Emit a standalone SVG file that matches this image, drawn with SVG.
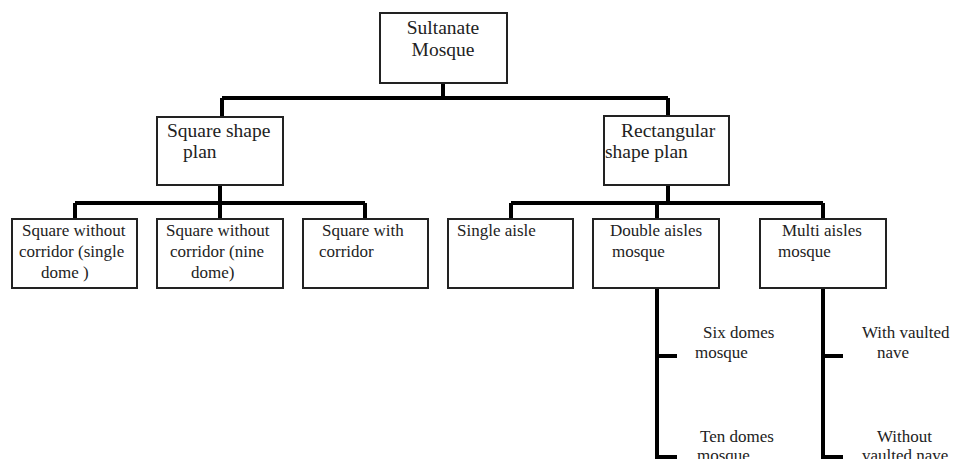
<svg xmlns="http://www.w3.org/2000/svg" width="954" height="459" viewBox="0 0 954 459">
<style>
.box{fill:#fff;stroke:#222;stroke-width:2}
.con{fill:none;stroke:#000;stroke-width:4}
text{font-family:"Liberation Serif","Times New Roman",serif;font-size:17px;fill:#222}
.big{font-size:19.5px}
</style>
<rect width="954" height="459" fill="#fff"/>
<g id="connectors">
<path class="con" d="M443 83V98M222 98H668M222 98V117M668 98V116"/>
<path class="con" d="M220 185V203M75 203H365M75 203V219M220 203V219M365 203V219"/>
<path class="con" d="M668 185V203M511 203H823M511 203V219M657 203V219M823 203V219"/>
<path class="con" d="M657 288V470M657 356H677M657 457H677"/>
<path class="con" d="M823 288V470M823 356H843M823 457H843"/>
</g>
<g id="sultanate"><rect class="box" x="380" y="13" width="127" height="70"/>
<text class="big" x="443" y="34" text-anchor="middle">Sultanate</text><text class="big" x="443" y="56" text-anchor="middle">Mosque</text></g>
<g id="square"><rect class="box" x="157" y="117" width="126" height="68"/>
<text class="big" x="167" y="137">Square shape</text><text class="big" x="183" y="158">plan</text></g>
<g id="rect"><rect class="box" x="604" y="116" width="125" height="69"/>
<text class="big" x="621" y="137">Rectangular</text><text class="big" x="605" y="158">shape plan</text></g>
<g id="sq1"><rect class="box" x="12" y="219" width="125" height="69"/>
<text x="22" y="236">Square without</text><text x="19" y="257">corridor (single</text><text x="41" y="278">dome )</text></g>
<g id="sq2"><rect class="box" x="157" y="219" width="126" height="69"/>
<text x="166" y="236">Square without</text><text x="170" y="257">corridor (nine</text><text x="191" y="278">dome)</text></g>
<g id="sq3"><rect class="box" x="303" y="219" width="125" height="69"/>
<text x="322" y="236">Square with</text><text x="319" y="257">corridor</text></g>
<g id="single"><rect class="box" x="448" y="219" width="125" height="69"/>
<text x="457" y="236">Single aisle</text></g>
<g id="double"><rect class="box" x="593" y="219" width="126" height="69"/>
<text x="610" y="236">Double aisles</text><text x="612" y="257">mosque</text></g>
<g id="multi"><rect class="box" x="760" y="219" width="126" height="69"/>
<text x="782" y="236">Multi aisles</text><text x="778" y="257">mosque</text></g>
<g id="six"><text x="703" y="338">Six domes</text><text x="695" y="358">mosque</text></g>
<g id="vaulted"><text x="862" y="338">With vaulted</text><text x="877" y="358">nave</text></g>
<g id="ten"><text x="700" y="442">Ten domes</text><text x="697" y="461">mosque</text></g>
<g id="without"><text x="877" y="442">Without</text><text x="862" y="461">vaulted nave</text></g>
</svg>
